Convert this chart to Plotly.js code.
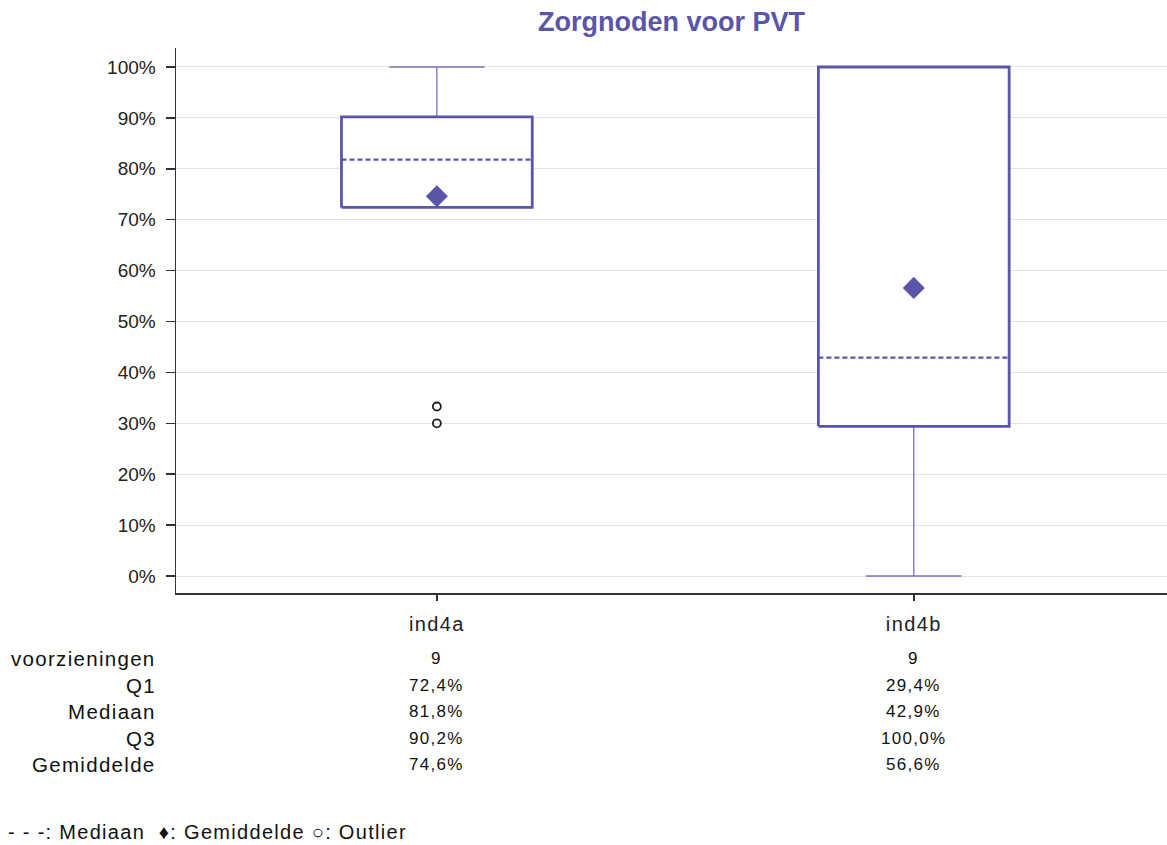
<!DOCTYPE html>
<html>
<head>
<meta charset="utf-8">
<script src="https://cdn.plot.ly/plotly-3.0.1.min.js"></script>
<style>
html,body{margin:0;padding:0;background:#fff;}
#chart{width:1167px;height:845px;}
text.annotation-text{letter-spacing:1.3px;}
#chart .xtick text{letter-spacing:1.4px;}
</style>
</head>
<body>
<div id="chart"></div>
<script>
// ---- data ----
var categories = ["ind4a", "ind4b"];
var nFacilities = [9, 9];
var q1 = [72.4, 29.4];
var median = [81.8, 42.9];
var q3 = [90.2, 100.0];
var mean = [74.6, 56.6];
var lowerWhisker = [72.4, 0];
var upperWhisker = [100, 100];
var outliersCat = [0, 0];
var outliersVal = [30.0, 33.3];
var yTickVals = [0, 10, 20, 30, 40, 50, 60, 70, 80, 90, 100];
var yTickText = ["0%", "10%", "20%", "30%", "40%", "50%", "60%", "70%", "80%", "90%", "100%"];
var rowLabels = ["voorzieningen", "Q1", "Mediaan", "Q3", "Gemiddelde"];
var footerText = "- - -: Mediaan  \u2666: Gemiddelde \u25CB: Outlier";

// ---- styling ----
var boxColor = "#5a55a8";
var whiskColor = "#7772bf";
var halfBox = 0.2, halfCap = 0.1;
var font = "Liberation Sans, Arial, sans-serif";

function fmt(v) { return v.toFixed(1).replace(".", ",") + "%"; }

var traces = [];
categories.forEach(function (c, i) {
  traces.push({x: [i, i, null, i, i], y: [q3[i], upperWhisker[i], null, q1[i], lowerWhisker[i]],
    mode: "lines", line: {color: whiskColor, width: 1.3}, hoverinfo: "skip", showlegend: false});
  var capsX = [], capsY = [];
  if (upperWhisker[i] > q3[i]) { capsX.push(i - halfCap, i + halfCap, null); capsY.push(upperWhisker[i], upperWhisker[i], null); }
  if (lowerWhisker[i] < q1[i]) { capsX.push(i - halfCap, i + halfCap, null); capsY.push(lowerWhisker[i], lowerWhisker[i], null); }
  traces.push({x: capsX, y: capsY, mode: "lines", line: {color: whiskColor, width: 1.6}, hoverinfo: "skip", showlegend: false});
  traces.push({x: [i - halfBox, i + halfBox, i + halfBox, i - halfBox, i - halfBox],
    y: [q1[i], q1[i], q3[i], q3[i], q1[i]], mode: "lines", fill: "toself", fillcolor: "#ffffff",
    line: {color: boxColor, width: 2.8}, hoverinfo: "skip", showlegend: false});
  traces.push({x: [i - halfBox, i + halfBox], y: [median[i], median[i]], mode: "lines",
    line: {color: boxColor, width: 2.4, dash: "5px,3px"}, hoverinfo: "skip", showlegend: false});
});
traces.push({x: categories.map(function (c, i) { return i; }), y: mean, mode: "markers",
  marker: {symbol: "diamond", size: 17, color: boxColor}, hoverinfo: "y", showlegend: false});
traces.push({x: outliersCat, y: outliersVal, mode: "markers",
  marker: {symbol: "circle-open", size: 8, color: "#222", line: {width: 1.8, color: "#222"}}, hoverinfo: "y", showlegend: false});

var plotTop = 48, plotBottom = 593, plotH = plotBottom - plotTop;
function py(pix) { return (plotBottom - pix) / plotH; }
var rowY = [658, 685, 711, 738, 764];
var annotations = [];
rowLabels.forEach(function (lab, r) {
  annotations.push({xref: "paper", yref: "paper", x: (158 - 176) / 991, y: py(rowY[r]), xanchor: "right", yanchor: "middle",
    text: lab, showarrow: false, font: {family: font, size: 20.5, color: "#111"}});
});
categories.forEach(function (c, i) {
  var vals = [String(nFacilities[i]), fmt(q1[i]), fmt(median[i]), fmt(q3[i]), fmt(mean[i])];
  vals.forEach(function (v, r) {
    annotations.push({xref: "x", yref: "paper", x: i, y: py(rowY[r]), xanchor: "center", yanchor: "middle",
      text: v, showarrow: false, font: {family: font, size: 17, color: "#111"}});
  });
});
annotations.push({xref: "paper", yref: "paper", x: (6 - 176) / 991, y: py(832), xanchor: "left", yanchor: "middle",
  text: footerText, showarrow: false, font: {family: font, size: 20, color: "#111"}});

var layout = {
  width: 1167, height: 845,
  margin: {l: 176, r: 0, t: plotTop, b: 845 - plotBottom},
  paper_bgcolor: "#fff", plot_bgcolor: "#fff",
  title: {text: "<b>Zorgnoden voor PVT</b>", x: 0.5, xref: "paper", y: 1 - 22 / 845, yanchor: "middle",
    font: {family: font, size: 27, color: boxColor}},
  xaxis: {range: [-0.547, 1.531], tickvals: [0, 1], ticktext: categories, showgrid: false, zeroline: false,
    showline: true, linecolor: "#333", linewidth: 1.5, ticks: "outside", ticklen: 6, tickcolor: "#333", tickwidth: 1.5,
    ticklabelstandoff: 6, tickfont: {family: font, size: 20, color: "#222"}, fixedrange: true},
  yaxis: {range: [-3.34, 103.73], tickvals: yTickVals, ticktext: yTickText,
    showgrid: true, gridcolor: "#e3e3e3", gridwidth: 1, zeroline: false,
    showline: true, linecolor: "#333", linewidth: 1.5, ticks: "outside", ticklen: 9, tickcolor: "#333", tickwidth: 1.5,
    ticklabelstandoff: 6, tickfont: {family: font, size: 19, color: "#222"}, fixedrange: true},
  annotations: annotations,
  showlegend: false
};
Plotly.newPlot("chart", traces, layout, {displayModeBar: false, staticPlot: true});
</script>
</body>
</html>
